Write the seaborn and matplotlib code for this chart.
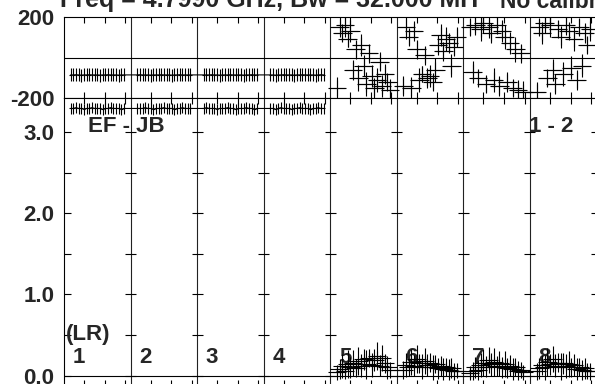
import numpy as np
import pandas as pd
import matplotlib
matplotlib.use("Agg")
import matplotlib.pyplot as plt
import seaborn as sns

# ---------------- data ----------------
channels = [1, 2, 3, 4, 5, 6, 7, 8]
times = [0.10, 0.14, 0.18, 0.22, 0.26, 0.30, 0.34, 0.38, 0.42, 0.46, 0.50,
         0.54, 0.58, 0.62, 0.66, 0.70, 0.74, 0.78, 0.82, 0.86, 0.90]
time_halfwidth = 0.14

phase_ch1 = [-86, -86, -85, -86, -87, -86, -86, -85, -86, -86, -86, -87, -86, -86, -85, -86, -86, -86, -87, -86, -86]
phase_ch2 = [-86, -85, -86, -86, -86, -87, -86, -86, -86, -85, -86, -86, -86, -87, -86, -86, -85, -86, -86, -86, -86]
phase_ch3 = [-86, -86, -86, -85, -86, -86, -87, -86, -86, -86, -85, -86, -86, -86, -86, -87, -86, -86, -85, -86, -86]
phase_ch4 = [-86, -86, -87, -86, -86, -85, -86, -86, -86, -87, -86, -86, -85, -86, -86, -86, -86, -87, -86, -85, -86]
phase_ch5 = [-150, 150, 120, 160, 90, 130, -60, 40, -100, 60, -40, -130, 20, -90, -150, -110, -20, -140, -80, -120, -160]
phase_ch6 = [-140, 150, 100, -150, 130, 40, -110, -80, 10, -100, -90, -120, -60, 60, 110, 30, 90, 70, -40, 50, 100]
phase_ch7 = [150, -70, 160, -100, 140, 170, -130, 150, 120, -110, 160, -140, 130, 100, -120, 70, -150, 40, -160, 20, -170]
phase_ch8 = [-170, 150, 120, 170, -100, 160, -60, -130, 140, 100, -80, 160, 130, -50, 90, -110, 150, -40, 120, 60, 140]

phase_err_ch1 = [32, 32, 32, 32, 32, 32, 32, 32, 32, 32, 32, 32, 32, 32, 32, 32, 32, 32, 32, 32, 32]
phase_err_ch2 = [32, 32, 32, 32, 32, 32, 32, 32, 32, 32, 32, 32, 32, 32, 32, 32, 32, 32, 32, 32, 32]
phase_err_ch3 = [32, 32, 32, 32, 32, 32, 32, 32, 32, 32, 32, 32, 32, 32, 32, 32, 32, 32, 32, 32, 32]
phase_err_ch4 = [32, 32, 32, 32, 32, 32, 32, 32, 32, 32, 32, 32, 32, 32, 32, 32, 32, 32, 32, 32, 32]
phase_err_ch5 = [55, 50, 45, 60, 40, 55, 50, 45, 65, 55, 50, 60, 45, 55, 50, 60, 45, 55, 50, 45, 55]
phase_err_ch6 = [50, 60, 45, 55, 50, 45, 60, 40, 45, 50, 55, 45, 60, 50, 55, 45, 60, 50, 55, 45, 50]
phase_err_ch7 = [45, 55, 50, 45, 60, 50, 45, 55, 50, 60, 45, 50, 55, 60, 50, 55, 45, 60, 50, 45, 55]
phase_err_ch8 = [50, 45, 55, 50, 45, 60, 55, 50, 45, 55, 60, 50, 45, 55, 60, 50, 45, 55, 50, 45, 60]

amp_ch1 = [3.29, 3.29, 3.30, 3.29, 3.29, 3.28, 3.29, 3.29, 3.30, 3.29, 3.29, 3.29, 3.28, 3.29, 3.29, 3.30, 3.29, 3.29, 3.29, 3.28, 3.29]
amp_ch2 = [3.29, 3.29, 3.29, 3.30, 3.29, 3.29, 3.28, 3.29, 3.29, 3.29, 3.30, 3.29, 3.29, 3.29, 3.28, 3.29, 3.29, 3.30, 3.29, 3.29, 3.29]
amp_ch3 = [3.29, 3.30, 3.29, 3.29, 3.29, 3.28, 3.29, 3.29, 3.29, 3.30, 3.29, 3.29, 3.28, 3.29, 3.29, 3.29, 3.30, 3.29, 3.29, 3.28, 3.29]
amp_ch4 = [3.29, 3.29, 3.28, 3.29, 3.30, 3.29, 3.29, 3.29, 3.28, 3.29, 3.29, 3.30, 3.29, 3.29, 3.29, 3.28, 3.29, 3.29, 3.30, 3.29, 3.29]
amp_ch5 = [0.04, 0.08, 0.12, 0.06, 0.14, 0.10, 0.16, 0.09, 0.18, 0.12, 0.20, 0.14, 0.22, 0.13, 0.19, 0.24, 0.12, 0.21, 0.15, 0.10, 0.07]
amp_ch6 = [0.07, 0.13, 0.10, 0.17, 0.12, 0.20, 0.15, 0.11, 0.18, 0.13, 0.16, 0.10, 0.14, 0.09, 0.12, 0.08, 0.11, 0.07, 0.09, 0.05, 0.06]
amp_ch7 = [0.03, 0.06, 0.10, 0.07, 0.13, 0.16, 0.11, 0.19, 0.14, 0.17, 0.12, 0.15, 0.10, 0.14, 0.09, 0.12, 0.08, 0.10, 0.06, 0.07, 0.04]
amp_ch8 = [0.05, 0.09, 0.13, 0.10, 0.17, 0.14, 0.20, 0.12, 0.16, 0.11, 0.15, 0.12, 0.14, 0.10, 0.13, 0.08, 0.11, 0.07, 0.09, 0.06, 0.05]

amp_err_ch1 = [0.07, 0.07, 0.07, 0.07, 0.07, 0.07, 0.07, 0.07, 0.07, 0.07, 0.07, 0.07, 0.07, 0.07, 0.07, 0.07, 0.07, 0.07, 0.07, 0.07, 0.07]
amp_err_ch2 = [0.07, 0.07, 0.07, 0.07, 0.07, 0.07, 0.07, 0.07, 0.07, 0.07, 0.07, 0.07, 0.07, 0.07, 0.07, 0.07, 0.07, 0.07, 0.07, 0.07, 0.07]
amp_err_ch3 = [0.07, 0.07, 0.07, 0.07, 0.07, 0.07, 0.07, 0.07, 0.07, 0.07, 0.07, 0.07, 0.07, 0.07, 0.07, 0.07, 0.07, 0.07, 0.07, 0.07, 0.07]
amp_err_ch4 = [0.07, 0.07, 0.07, 0.07, 0.07, 0.07, 0.07, 0.07, 0.07, 0.07, 0.07, 0.07, 0.07, 0.07, 0.07, 0.07, 0.07, 0.07, 0.07, 0.07, 0.07]
amp_err_ch5 = [0.09, 0.12, 0.15, 0.10, 0.17, 0.13, 0.16, 0.11, 0.17, 0.14, 0.13, 0.18, 0.11, 0.15, 0.14, 0.17, 0.13, 0.16, 0.12, 0.14, 0.10]
amp_err_ch6 = [0.11, 0.15, 0.10, 0.16, 0.13, 0.17, 0.12, 0.15, 0.16, 0.13, 0.12, 0.15, 0.11, 0.13, 0.12, 0.14, 0.11, 0.13, 0.12, 0.10, 0.09]
amp_err_ch7 = [0.09, 0.11, 0.13, 0.12, 0.15, 0.17, 0.13, 0.16, 0.14, 0.17, 0.12, 0.15, 0.13, 0.16, 0.12, 0.13, 0.14, 0.11, 0.12, 0.10, 0.09]
amp_err_ch8 = [0.10, 0.13, 0.12, 0.15, 0.17, 0.13, 0.16, 0.14, 0.12, 0.17, 0.13, 0.15, 0.16, 0.12, 0.14, 0.13, 0.11, 0.12, 0.13, 0.10, 0.11]

baseline_label = "EF - JB"
stokes_label = "(LR)"
ant_label = "1 - 2"
title_left = "Freq = 4.7990 GHz, Bw = 32.000 MH"
title_right = "No calibra"
phase_ticks = [-200, 200]
phase_ticklabels = ["-200", "200"]
amp_ticks = [0.0, 1.0, 2.0, 3.0]
amp_ticklabels = ["0.0", "1.0", "2.0", "3.0"]
amp_minor = [0.5, 1.5, 2.5]

phase_all = [phase_ch1, phase_ch2, phase_ch3, phase_ch4, phase_ch5, phase_ch6, phase_ch7, phase_ch8]
phase_err_all = [phase_err_ch1, phase_err_ch2, phase_err_ch3, phase_err_ch4,
                 phase_err_ch5, phase_err_ch6, phase_err_ch7, phase_err_ch8]
amp_all = [amp_ch1, amp_ch2, amp_ch3, amp_ch4, amp_ch5, amp_ch6, amp_ch7, amp_ch8]
amp_err_all = [amp_err_ch1, amp_err_ch2, amp_err_ch3, amp_err_ch4,
               amp_err_ch5, amp_err_ch6, amp_err_ch7, amp_err_ch8]

rows = []
for ci, ch in enumerate(channels):
    for ti, t in enumerate(times):
        rows.append(dict(channel=ch, x=(ch - 1) + t, phase=phase_all[ci][ti],
                         perr=phase_err_all[ci][ti], amp=amp_all[ci][ti],
                         aerr=amp_err_all[ci][ti]))
df = pd.DataFrame(rows)

# ---------------- style ----------------
sns.set_style("ticks")
plt.rcParams['font.family'] = ['Liberation Sans', 'DejaVu Sans']
plt.rcParams['font.weight'] = 'bold'
FS = 16
FS_TITLE = 18

W, H = 595, 384
fig = plt.figure(figsize=(W / 100, H / 100), dpi=100)
left_px, right_px = 64, 596.5
ph_top, ph_bot = 17.0, 98
amp_top, amp_bot = 98, 385.5
ax_ph = fig.add_axes([left_px / W, 1 - ph_bot / H, (right_px - left_px) / W, (ph_bot - ph_top) / H])
ax_amp = fig.add_axes([left_px / W, 1 - amp_bot / H, (right_px - left_px) / W, (amp_bot - amp_top) / H])

nch = len(channels)
px_per_unit_amp = (375.5 - 132) / 3.0
for ax in (ax_ph, ax_amp):
    ax.set_xlim(0, nch)
    ax.set_facecolor('white')
    for sp in ax.spines.values():
        sp.set_color('black')
        sp.set_linewidth(0.8)
    ax.spines['right'].set_visible(False)
    xt = [k + f for k in range(nch) for f in (0.3, 0.61, 0.92)]
    ax.set_xticks(xt)
    ax.set_xticklabels([])
    ax.tick_params(axis='x', direction='in', top=True, bottom=True, length=4, width=0.8, color='black')
    for k in range(1, nch):
        ax.axvline(k, color='#222222', lw=0.8, zorder=1)
    ax.axhline(0, color='black', lw=0.8, zorder=1)

ax_ph.set_ylim(-200, 200)
ax_amp.set_ylim(-(amp_bot - 375.5) / px_per_unit_amp, 3.0 + (132 - amp_top) / px_per_unit_amp)

ax_ph.set_yticks(phase_ticks)
ax_ph.set_yticklabels(phase_ticklabels, fontsize=FS, fontweight='bold')
ax_ph.tick_params(axis='y', direction='in', length=0, pad=7)

ax_amp.set_yticks(amp_ticks)
ax_amp.set_yticklabels(amp_ticklabels, fontsize=FS, fontweight='bold')
ax_amp.set_yticks(amp_minor, minor=True)
ax_amp.tick_params(axis='y', which='both', direction='in', length=5, width=0.8, pad=7, color='black')

# cross ticks on every channel boundary
d = 5.5 / ((right_px - left_px) / nch)
for k in range(1, nch + 1):
    ax_amp.hlines(amp_ticks + amp_minor, k - d, k + d, color='black', lw=0.8, zorder=2)

# ---------------- data marks ----------------
flat = df[df.channel <= 4]
noisy = df[df.channel >= 5]

sns.lineplot(data=flat, x='x', y='phase', ax=ax_ph, color='black', lw=0.8,
             estimator=None, sort=True, legend=False)
sns.lineplot(data=flat, x='x', y='amp', ax=ax_amp, color='black', lw=0.8,
             estimator=None, sort=True, legend=False)

for ch in channels:
    sub = df[df.channel == ch]
    ax_ph.errorbar(sub.x, sub.phase, yerr=sub.perr, xerr=time_halfwidth if ch >= 5 else 0.02,
                   fmt='none', ecolor='black', elinewidth=0.8, capsize=0, zorder=3)
    ax_amp.errorbar(sub.x, sub.amp, yerr=sub.aerr, xerr=time_halfwidth if ch >= 5 else 0.02,
                    fmt='none', ecolor='black', elinewidth=0.8, capsize=0, zorder=3)

sns.scatterplot(data=noisy, x='x', y='phase', ax=ax_ph, marker='+', color='black',
                s=120, linewidth=0.8, legend=False, zorder=4)
sns.scatterplot(data=noisy, x='x', y='amp', ax=ax_amp, marker='+', color='black',
                s=60, linewidth=0.8, legend=False, zorder=4)

ax_ph.set_xlabel(''); ax_ph.set_ylabel('')
ax_amp.set_xlabel(''); ax_amp.set_ylabel('')
ax_ph.set_xlim(0, nch); ax_amp.set_xlim(0, nch)
ax_ph.set_ylim(-200, 200)

# ---------------- text ----------------
ax_amp.text(0.36, 3.0, baseline_label, fontsize=FS, fontweight='bold', ha='left', va='baseline')
ax_amp.text(6.98, 3.0, ant_label, fontsize=FS, fontweight='bold', ha='left', va='baseline')
ax_amp.text(0.03, 0.44, stokes_label, fontsize=FS, fontweight='bold', ha='left', va='baseline')
for ch in channels:
    ax_amp.text(ch - 1 + 0.13, 0.15, str(ch), fontsize=FS, fontweight='bold',
                ha='left', va='baseline', zorder=2)

fig.text(60 / W, 1 - 7.5 / H, title_left, fontsize=FS_TITLE, fontweight='bold', ha='left', va='baseline')
fig.text(500 / W, 1 - 7.5 / H, title_right, fontsize=16.5, fontweight='bold', ha='left', va='baseline')

fig.savefig("out.png", dpi=100, facecolor='white')
